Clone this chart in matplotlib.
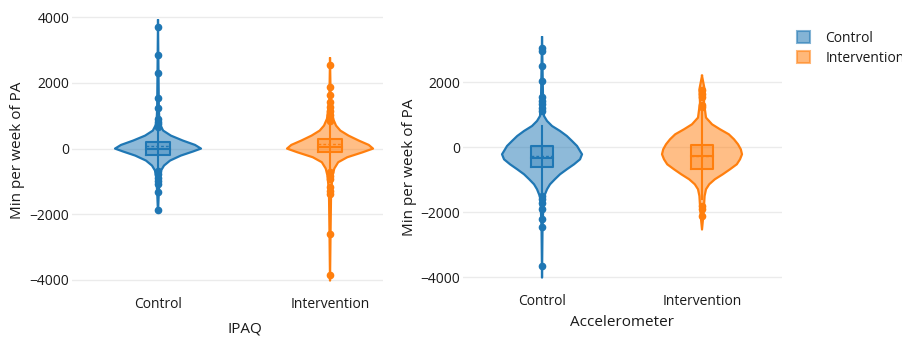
import numpy as np
import matplotlib.pyplot as plt
from matplotlib.patches import Patch

plt.rcParams['font.family'] = ['Open Sans', 'DejaVu Sans']

groups = ["Control", "Intervention"]
colors = ["#1f77b4", "#ff7f0e"]
panel_titles = ["IPAQ", "Accelerometer"]
y_ticks = [-4000, -2000, 0, 2000, 4000]

# violin outlines: y value -> relative half-width (1 = widest)
ipaq_ctrl_y = [3900, 2500, 1200, 760, 700, 548, 395, 243, 112, 0, -90, -213, -365, -517, -670, -900, -1300, -1950]
ipaq_ctrl_w = [0, 0.01, 0.02, 0.035, 0.06, 0.12, 0.30, 0.58, 0.86, 1.0, 0.81, 0.53, 0.28, 0.14, 0.07, 0.04, 0.02, 0]
ipaq_int_y = [2740, 1500, 912, 700, 548, 395, 243, 112, 0, -112, -264, -416, -608, -821, -1300, -2600, -4020]
ipaq_int_w = [0, 0.015, 0.07, 0.14, 0.24, 0.43, 0.67, 0.90, 1.0, 0.76, 0.40, 0.19, 0.10, 0.06, 0.025, 0.012, 0]
acc_ctrl_y = [3380, 2500, 1500, 963, 810, 655, 502, 348, 194, 40, -114, -215, -370, -523, -677, -830, -985,
              -1138, -1292, -1446, -1550, -2500, -4010]
acc_ctrl_w = [0, 0.012, 0.025, 0.05, 0.125, 0.25, 0.45, 0.62, 0.75, 0.875, 0.95, 1.0, 0.95, 0.8, 0.62, 0.45,
              0.32, 0.2, 0.125, 0.075, 0.04, 0.012, 0]
acc_int_y = [2200, 1785, 1375, 913, 708, 554, 400, 246, 92, -62, -215, -370, -523, -677, -830, -985, -1138,
             -1292, -1498, -1805, -2113, -2530]
acc_int_w = [0, 0.065, 0.05, 0.1, 0.25, 0.45, 0.67, 0.8, 0.9, 0.97, 1.0, 0.95, 0.87, 0.7, 0.52, 0.32, 0.18,
             0.1, 0.065, 0.05, 0.032, 0]

# box: q1, median, q3, mean ; whiskers: low, high
ipaq_ctrl_box = [-195, -20, 210, 80]
ipaq_ctrl_whisk = [-650, 700]
ipaq_int_box = [-94, 58, 292, 140]
ipaq_int_whisk = [-700, 830]
acc_ctrl_box = [-597, -340, 30, -260]
acc_ctrl_whisk = [-1480, 660]
acc_int_box = [-668, -268, 71, -268]
acc_int_whisk = [-1600, 1150]

# outlying points
ipaq_ctrl_pts = [3711, 2860, 2312, 1551, 1247, 912, 821, 760, 669, -669, -760, -882, -973, -1065, -1308, -1855]
ipaq_int_pts = [2555, 1865, 1643, 1410, 1257, 1156, 1034, 943, 852, -720, -821, -912, -1176, -1278, -1379,
                -2616, -3843]
acc_ctrl_pts = [3070, 2950, 2500, 2030, 1540, 1430, 1320, 1220, 1110, -1500, -1600, -1700, -1900, -2215,
                -2460, -3660]
acc_int_pts = [1750, 1650, 1550, 1300, 1250, -1800, -1900, -2100]

W, H = 903, 342
fig = plt.figure(figsize=(W / 100, H / 100), dpi=100)


def px_axes(x0, x1, y0, y1):
    return fig.add_axes([x0 / W, 1 - y1 / H, (x1 - x0) / W, (y1 - y0) / H])


def draw_violin(ax, x, ys, ws, box, whisk, pts, color, half=0.25, bw=0.068):
    ys = np.array(ys, float)
    ws = np.array(ws, float) * half
    ax.fill_betweenx(ys, x - ws, x + ws, facecolor=color, alpha=0.5, lw=0, zorder=2)
    ax.plot(np.r_[x - ws, (x + ws)[::-1]], np.r_[ys, ys[::-1]], color=color, lw=1.6, zorder=3,
            solid_joinstyle='round')
    ax.plot([x, x], whisk, color=color, lw=1.5, zorder=3)
    q1, med, q3, mean = box
    ax.fill_between([x - bw, x + bw], q1, q3, facecolor=color, alpha=0.35, edgecolor='none', zorder=4)
    ax.plot([x - bw, x + bw, x + bw, x - bw, x - bw], [q1, q1, q3, q3, q1], color=color, lw=1.5, zorder=5)
    ax.plot([x - bw, x + bw], [med, med], color=color, lw=1.5, zorder=5)
    ax.plot([x - bw, x + bw], [mean, mean], color=color, lw=1.0, ls=(0, (2, 1.5)), zorder=5)
    ax.plot([x] * len(pts), pts, 'o', color=color, ms=4.5, mec=color, zorder=6)


panels = [
    dict(box=(72, 383, 10, 290), xlim=(-0.5, 1.308), ylim=(4220, -4306),
         data=[(ipaq_ctrl_y, ipaq_ctrl_w, ipaq_ctrl_box, ipaq_ctrl_whisk, ipaq_ctrl_pts),
               (ipaq_int_y, ipaq_int_w, ipaq_int_box, ipaq_int_whisk, ipaq_int_pts)],
         xlab=(0.556, -0.112), ylab=(-0.151, 0.5), tpad=5),
    dict(box=(463, 782, 35, 290), xlim=(-0.494, 1.5), ylim=(3455, -4391),
         data=[(acc_ctrl_y, acc_ctrl_w, acc_ctrl_box, acc_ctrl_whisk, acc_ctrl_pts),
               (acc_int_y, acc_int_w, acc_int_box, acc_int_whisk, acc_int_pts)],
         xlab=(0.5, -0.097), ylab=(-0.144, 0.48), tpad=3),
]

for p, title in zip(panels, panel_titles):
    ax = px_axes(*p['box'])
    for i, (ys, ws, box, whisk, pts) in enumerate(p['data']):
        draw_violin(ax, i, ys, ws, box, whisk, pts, colors[i])
    ax.set_xlim(*p['xlim'])
    ax.set_ylim(p['ylim'][1], p['ylim'][0])
    ax.set_xticks([0, 1])
    ax.set_xticklabels(groups)
    ticks = [t for t in y_ticks if p['ylim'][1] <= t <= p['ylim'][0]]
    ax.set_yticks(ticks)
    ax.set_yticklabels([f"{t:d}".replace('-', '\u2212') for t in ticks])
    ax.tick_params(length=0, labelsize=10, colors='#1a1a1a')
    ax.tick_params(axis='x', pad=p['tpad'])
    ax.tick_params(axis='y', pad=2)
    for s in ax.spines.values():
        s.set_visible(False)
    ax.grid(axis='y', color='#ebebeb', lw=1)
    ax.set_axisbelow(True)
    ax.set_xlabel(title, fontsize=11, color='#1a1a1a')
    ax.xaxis.set_label_coords(*p['xlab'])
    ax.set_ylabel("Min per week of PA", fontsize=11, color='#1a1a1a')
    ax.yaxis.set_label_coords(*p['ylab'])

handles = [Patch(facecolor=c, edgecolor=c, alpha=0.55, lw=1.5) for c in colors]
fig.legend(handles, groups, loc='upper left', bbox_to_anchor=(797 / W, 1 - 31 / H), frameon=False,
           fontsize=10, handlelength=0.95, handleheight=0.95, handletextpad=1.1, labelspacing=0.35,
           borderaxespad=0, borderpad=0, labelcolor='#1a1a1a')

fig.savefig("out.png", dpi=100)
